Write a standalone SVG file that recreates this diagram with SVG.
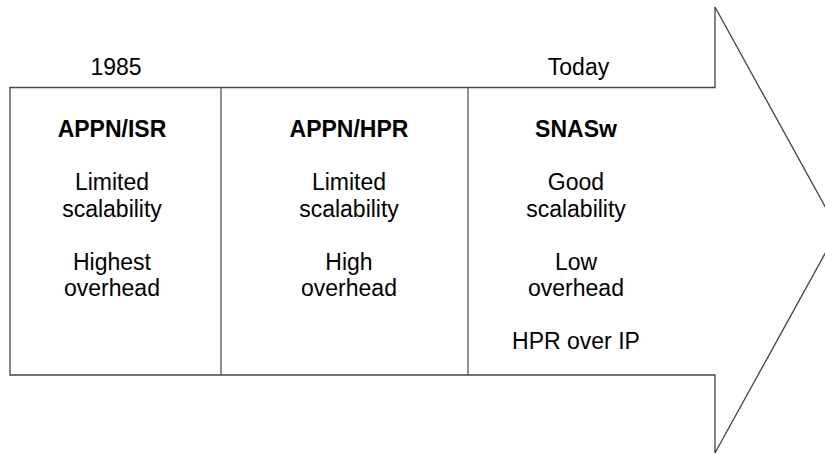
<svg xmlns="http://www.w3.org/2000/svg" width="825" height="454" viewBox="0 0 825 454">
  <style>
    .outline { fill: #ffffff; stroke: #444444; stroke-width: 1.3; stroke-linejoin: miter; }
    .divider { stroke: #555555; stroke-width: 1.3; }
    text { font-family: "Liberation Sans", Arial, sans-serif; font-size: 23px; fill: #000000; text-anchor: middle; }
    .title { font-weight: bold; }
  </style>
  <rect width="825" height="454" fill="#ffffff"/>

  <!-- timeline arrow body and head -->
  <g id="timeline-arrow">
    <polygon class="outline" points="10,87.5 715,87.5 715,7 838,230 715,453 715,375 10,375"/>
    <line class="divider" x1="221" y1="87.5" x2="221" y2="375"/>
    <line class="divider" x1="468" y1="87.5" x2="468" y2="375"/>
  </g>

  <g id="label-1985">
    <text x="116" y="75">1985</text>
  </g>
  <g id="label-today">
    <text x="578.5" y="75">Today</text>
  </g>

  <g id="appn-isr">
    <text class="title" x="112" y="137">APPN/ISR</text>
    <text x="112" y="190">Limited</text>
    <text x="112" y="216.5">scalability</text>
    <text x="112" y="269.5">Highest</text>
    <text x="112" y="296">overhead</text>
  </g>

  <g id="appn-hpr">
    <text class="title" x="349" y="137">APPN/HPR</text>
    <text x="349" y="190">Limited</text>
    <text x="349" y="216.5">scalability</text>
    <text x="349" y="269.5">High</text>
    <text x="349" y="296">overhead</text>
  </g>

  <g id="snasw">
    <text class="title" x="576" y="137">SNASw</text>
    <text x="576" y="190">Good</text>
    <text x="576" y="216.5">scalability</text>
    <text x="576" y="269.5">Low</text>
    <text x="576" y="296">overhead</text>
    <text x="576" y="349">HPR over IP</text>
  </g>

  <g id="connectors"/>
</svg>
